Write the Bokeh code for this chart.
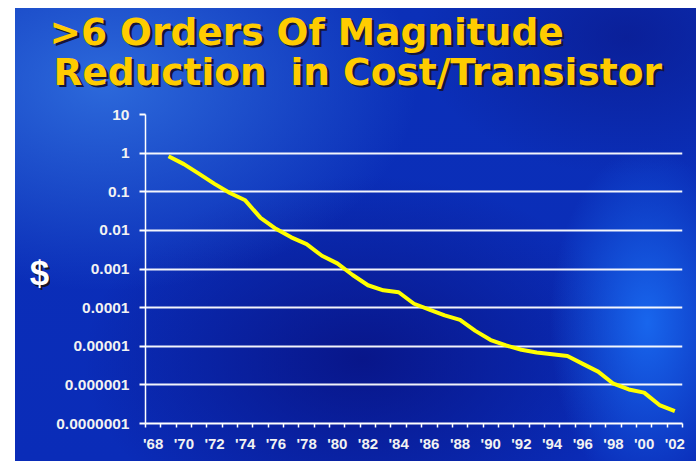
from bokeh.plotting import figure
from bokeh.layouts import column, row
from bokeh.models import FixedTicker, Range1d
from bokeh.core.properties import value
from bokeh.embed import file_html
from bokeh.resources import INLINE

years = list(range(1969, 2003))
cost = [0.83, 0.52, 0.29, 0.16, 0.093, 0.06, 0.021, 0.011, 0.0066, 0.0044,
        0.0022, 0.0014, 0.0007, 0.00038, 0.00028, 0.00025, 0.000126, 0.000089,
        0.000063, 0.000048, 0.000025, 0.0000145, 0.0000105, 0.0000081,
        0.0000069, 0.0000062, 0.0000056, 0.0000035, 0.0000022, 0.00000107,
        0.00000076, 0.00000063, 0.0000003, 0.00000021]

y_ticks = [1e-7, 1e-6, 1e-5, 1e-4, 1e-3, 1e-2, 1e-1, 1, 10]
y_tick_labels = ["0.0000001", "0.000001", "0.00001", "0.0001", "0.001",
                 "0.01", "0.1", "1", "10"]
x_label_years = list(range(1968, 2003, 2))
x_tick_labels = ["'%02d" % (y % 100) for y in x_label_years]
title_lines = [">6 Orders Of Magnitude", "Reduction  in Cost/Transistor"]
y_title = "$"


def bare(fig):
    fig.border_fill_alpha = 0
    fig.background_fill_alpha = 0
    fig.outline_line_color = None
    fig.grid.visible = False
    return fig


# ---- title strip (pixel coordinates, y downwards) ----
TW, TH = 696, 104
t = bare(figure(width=TW, height=TH, x_range=Range1d(0, TW), y_range=Range1d(TH, 0),
                x_axis_location=None, y_axis_location=None, min_border=0,
                output_backend="svg", toolbar_location=None))
line2_parts = title_lines[1].split("  ")
t_text = [title_lines[0]] + line2_parts
t_x = [49, 53, 290]
t_y = [31, 71, 71]
for dx, dy, col in [(2.5, 2.5, "#15153a"), (0, 0, "#ffcc00")]:
    t.text(x=[v + dx for v in t_x], y=[v + dy for v in t_y], text=t_text,
           text_color=col, text_font=value("DejaVu Sans"),
           text_font_style=value("bold"), text_font_size=value("37.5px"),
           text_baseline=value("alphabetic"), text_align=value("left"))

# ---- "$" strip ----
DW, DH = 50, 461 - TH
d = bare(figure(width=DW, height=DH, x_range=Range1d(0, DW), y_range=Range1d(DH, 0),
                x_axis_location=None, y_axis_location=None, min_border=0,
                output_backend="svg", toolbar_location=None))
for dx, dy, col in [(2, 2, "#15152a"), (0, 0, "white")]:
    d.text(x=[39 + dx], y=[183 + dy], text=[y_title], text_color=col,
           text_font=value("Liberation Sans"), text_font_style=value("bold"),
           text_font_size=value("35px"), text_baseline=value("middle"),
           text_align=value("center"))

# ---- main chart ----
p = figure(width=696 - DW, height=DH, y_axis_type="log",
           x_range=(1967.5, 2002.5), y_range=(1e-7, 10),
           output_backend="svg", toolbar_location=None,
           min_border_left=145 - DW, min_border_right=14,
           min_border_top=114 - TH, min_border_bottom=38)
p.border_fill_alpha = 0
p.background_fill_alpha = 0
p.outline_line_color = None

p.yaxis.ticker = FixedTicker(ticks=y_ticks, minor_ticks=[])
p.yaxis.major_label_overrides = {tk: lb for tk, lb in zip(y_ticks, y_tick_labels)}
p.yaxis.axis_line_color = "white"
p.yaxis.axis_line_width = 1.5
p.yaxis.major_tick_line_color = "white"
p.yaxis.major_tick_line_width = 2
p.yaxis.major_tick_out = 6
p.yaxis.major_tick_in = 0
p.yaxis.minor_tick_line_color = None
p.yaxis.major_label_standoff = 10
p.yaxis.major_label_text_color = "#f2f2f2"
p.yaxis.major_label_text_font = "Liberation Sans"
p.yaxis.major_label_text_font_style = "bold"
p.yaxis.major_label_text_font_size = "15.5px"

p.xaxis.ticker = FixedTicker(ticks=x_label_years,
                             minor_ticks=[y + 0.5 for y in range(1967, 2003)])
p.xaxis.major_label_overrides = {yr: lb for yr, lb in zip(x_label_years, x_tick_labels)}
p.xaxis.axis_line_color = "white"
p.xaxis.axis_line_width = 2
p.xaxis.major_tick_line_color = None
p.xaxis.major_tick_out = 0
p.xaxis.major_tick_in = 0
p.xaxis.minor_tick_line_color = "white"
p.xaxis.minor_tick_line_width = 1.5
p.xaxis.minor_tick_out = 4
p.xaxis.minor_tick_in = 0
p.xaxis.major_label_standoff = 7
p.xaxis.major_label_text_color = "#f2f2f2"
p.xaxis.major_label_text_font = "Liberation Sans"
p.xaxis.major_label_text_font_style = "bold"
p.xaxis.major_label_text_font_size = "15px"

p.xgrid.grid_line_color = None
p.ygrid.grid_line_color = "white"
p.ygrid.grid_line_width = 2
p.ygrid.grid_line_alpha = 0.95

p.line(years, cost, line_color="#ffff00", line_width=4, line_join="round")

layout = column(t, row(d, p, spacing=0), spacing=0)
layout.styles = {"background": (
    "linear-gradient(to right, #ffffff 0px, #ffffff 15px, rgba(255,255,255,0) 15px),"
    "linear-gradient(to bottom, #ffffff 0px, #ffffff 8px, rgba(255,255,255,0) 8px),"
    "radial-gradient(ellipse 14% 38% at 93% 70%, rgba(25,105,240,0.95), rgba(25,105,240,0) 100%),"
    "radial-gradient(ellipse 45% 45% at 15% 18%, rgba(50,115,225,0.85), rgba(50,115,225,0) 100%),"
    "radial-gradient(ellipse 40% 40% at 52% 78%, rgba(8,18,130,0.85), rgba(8,18,130,0) 100%),"
    "radial-gradient(ellipse 30% 30% at 90% 8%, rgba(10,25,140,0.7), rgba(10,25,140,0) 100%),"
    "linear-gradient(#0b30b8, #0a2cb8)")}

open("out.html", "w").write(file_html(layout, INLINE))
